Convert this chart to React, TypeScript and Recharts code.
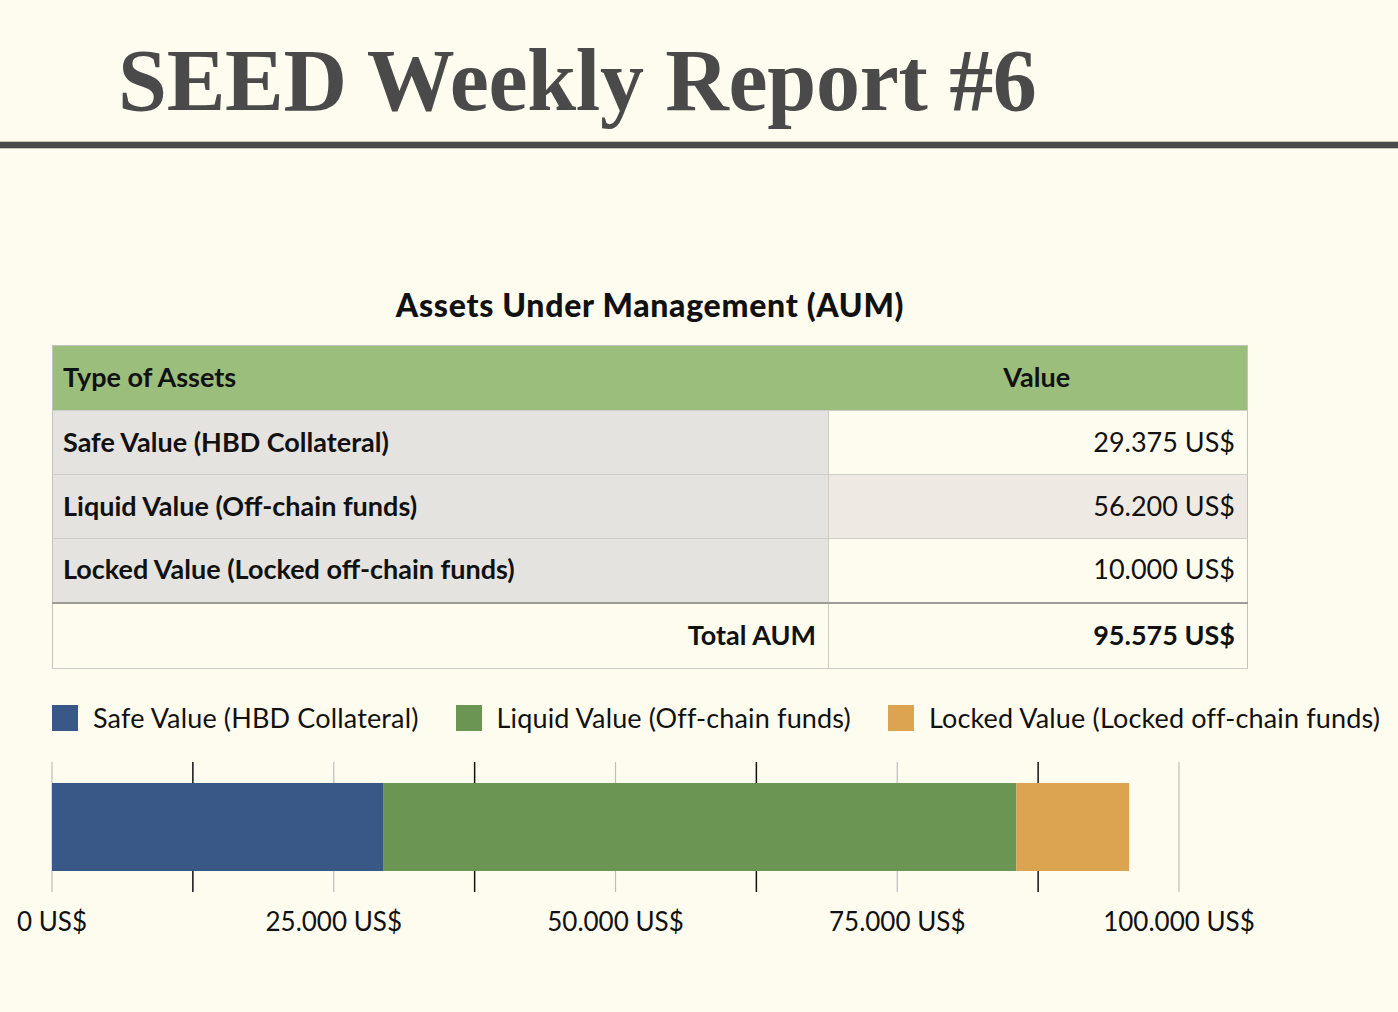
import React from 'react';
import { BarChart, Bar, XAxis, YAxis, CartesianGrid } from 'recharts';

const categories = ['AUM'];
const seriesKeys = ['safe', 'liquid', 'locked'];
const seriesNames = ['Safe Value (HBD Collateral)', 'Liquid Value (Off-chain funds)', 'Locked Value (Locked off-chain funds)'];
const seriesValues = [29375, 56200, 10000];
const seriesColors = ['#3A5887', '#6A9552', '#DCA350'];
const xTicks = [0, 25000, 50000, 75000, 100000];
const minorTicks = [12500, 37500, 62500, 87500];

const BG = '#FEFCEF';
const FONT = 'Lato, "Noto Sans", sans-serif';

// dot as thousands separator, like the source report
const fmt = (v: number) => String(Math.round(v)).replace(/\B(?=(\d{3})+(?!\d))/g, '.') + ' US$';

const chartData = categories.map((c) => {
  const row: any = { name: c };
  seriesKeys.forEach((k, i) => (row[k] = seriesValues[i]));
  return row;
});

const total = seriesValues.reduce((a, b) => a + b, 0);

const cellBase: React.CSSProperties = {
  height: 64,
  padding: '0 12px 3px 10px',
  borderBottom: '1px solid #cfcdc8',
  fontSize: 27,
  color: '#111',
  boxSizing: 'border-box',
};

export default function App() {
  return (
    <div style={{ position: 'absolute', left: 0, top: 0, width: 1398, height: 1012, background: BG, overflow: 'hidden', fontFamily: FONT }}>
      {/* header */}
      <div
        style={{
          position: 'absolute',
          left: 118,
          top: 37,
          fontFamily: '"Liberation Serif", serif',
          fontWeight: 700,
          fontSize: 88,
          lineHeight: '88px',
          letterSpacing: -0.3,
          color: '#4a4a4a',
          whiteSpace: 'nowrap',
        }}
      >
        SEED Weekly Report #6
      </div>
      <div style={{ position: 'absolute', left: 0, top: 141, width: 1398, height: 6, background: '#4a4a4a', borderTop: '1px solid #c9c6b5', borderBottom: '1px solid #c9c6b5' }} />

      {/* table */}
      <div style={{ position: 'absolute', left: 52, top: 285, width: 1196, textAlign: 'center', fontWeight: 900, fontSize: 32, letterSpacing: 0.7, color: '#111' }}>
        Assets Under Management (AUM)
      </div>
      <table
        style={{
          position: 'absolute',
          left: 52,
          top: 345,
          width: 1196,
          borderCollapse: 'collapse',
          border: '1px solid #c4c2bc',
          fontFamily: FONT,
        }}
      >
        <tbody>
          <tr style={{ background: '#9BBE7C' }}>
            <td style={{ ...cellBase, height: 65, fontWeight: 700, width: 776 }}>Type of Assets</td>
            <td style={{ ...cellBase, height: 65, fontWeight: 700, textAlign: 'center' }}>Value</td>
          </tr>
          {seriesNames.map((n, i) => (
            <tr key={n}>
              <td style={{ ...cellBase, fontWeight: 700, background: '#E4E3DF', borderRight: '1px solid #cfcdc8' }}>{n}</td>
              <td style={{ ...cellBase, textAlign: 'right', background: i === 1 ? '#EEEAE3' : BG }}>{fmt(seriesValues[i])}</td>
            </tr>
          ))}
          <tr>
            <td style={{ ...cellBase, height: 66, fontWeight: 700, textAlign: 'right', borderTop: '2px solid #9e9c96', borderRight: '1px solid #cfcdc8' }}>Total AUM</td>
            <td style={{ ...cellBase, height: 66, fontWeight: 700, textAlign: 'right', borderTop: '2px solid #9e9c96' }}>{fmt(total)}</td>
          </tr>
        </tbody>
      </table>

      {/* legend */}
      <div style={{ position: 'absolute', left: 52, top: 703, display: 'flex', alignItems: 'center', whiteSpace: 'nowrap' }}>
        {seriesNames.map((n, i) => (
          <div key={n} style={{ display: 'flex', alignItems: 'center', marginRight: 37 }}>
            <div style={{ width: 26, height: 26, background: seriesColors[i], marginRight: 15 }} />
            <span style={{ fontSize: 27, letterSpacing: 0.15, color: '#111', lineHeight: '30px' }}>{n}</span>
          </div>
        ))}
      </div>

      {/* bar */}
      <div style={{ position: 'absolute', left: 0, top: 740 }}>
        <BarChart
          width={1398}
          height={220}
          data={chartData}
          layout="vertical"
          margin={{ top: 22, right: 219, left: 52, bottom: 8 }}
        >
          <CartesianGrid horizontal={false} stroke="#bdbdbd" strokeWidth={1.2} />
          <CartesianGrid horizontal={false} verticalValues={minorTicks} stroke="#111" strokeWidth={1.5} />
          <XAxis
            type="number"
            domain={[0, 100000]}
            ticks={xTicks}
            tickFormatter={fmt}
            axisLine={false}
            tickLine={false}
            height={60}
            tickMargin={15}
            tick={{ fontSize: 26, fill: '#111', fontFamily: FONT }}
          />
          <YAxis type="category" dataKey="name" width={0} tick={false} tickLine={false} axisLine={{ stroke: '#111', strokeWidth: 2.5 }} />
          {seriesKeys.map((k, i) => (
            <Bar key={k} dataKey={k} name={seriesNames[i]} stackId="a" fill={seriesColors[i]} barSize={88} isAnimationActive={false} />
          ))}
        </BarChart>
      </div>
    </div>
  );
}
